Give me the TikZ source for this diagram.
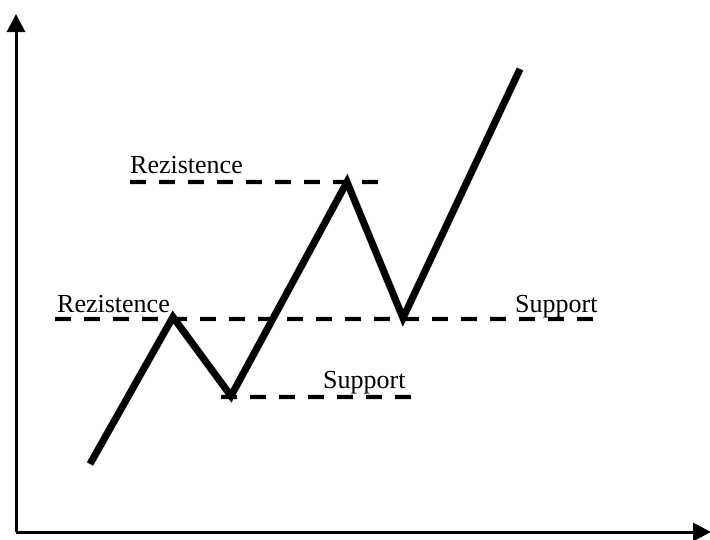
\documentclass[tikz,border=0pt]{standalone}
\usepackage{fontspec}
\setmainfont{Liberation Serif}
\usetikzlibrary{arrows.meta}
\begin{document}
\begin{tikzpicture}[x=1pt,y=-1pt,
  axis/.style={line width=3pt,-{Triangle[length=18pt,width=18pt]}},
  price/.style={line width=7pt,miter limit=10},
  level/.style={line width=4pt,dash pattern=on 16pt off 13pt},
  shade/.style={draw=black!14,line width=6pt,opacity=0.8},
  lbl/.style={anchor=base west,inner sep=0pt,font=\fontsize{26}{30}\selectfont}]
\useasboundingbox (0,0) rectangle (710,539);
% coordinates
\coordinate (o) at (16,532);
\coordinate (ytip) at (16,14);
\coordinate (xtip) at (711,532);
\coordinate (p0) at (90,464);
\coordinate (p1) at (173,317);
\coordinate (p2) at (231,396);
\coordinate (p3) at (347,182);
\coordinate (p4) at (403,318);
\coordinate (p5) at (520,69);
\coordinate (r1a) at (130,182);
\coordinate (r1b) at (378,182);
\coordinate (r2a) at (55,319);
\coordinate (r2b) at (595,319);
\coordinate (s1a) at (221,397);
\coordinate (s1b) at (412,397);
% shadows
\begin{scope}[yshift=-5pt]
\draw[shade,dash pattern=on 16pt off 13pt] (r1a) -- (r1b);
\draw[shade,dash pattern=on 16pt off 13pt] (r2a) -- (r2b);
\draw[shade,dash pattern=on 16pt off 13pt] (s1a) -- (s1b);
\draw[shade,line width=8pt] (p0) -- (p1) -- (p2) -- (p3) -- (p4) -- (p5);
\end{scope}
% axes
\draw[axis] (o) -- (ytip);
\draw[axis] (o) -- (xtip);
% levels
\draw[level] (r1a) -- (r1b);
\draw[level] (r2a) -- (r2b);
\draw[level] (s1a) -- (s1b);
% price path
\draw[price] (p0) -- (p1) -- (p2) -- (p3) -- (p4) -- (p5);
% labels
\node[lbl] (t1) at (130,173) {Rezistence};
\node[lbl] (t2) at (57,312) {Rezistence};
\node[lbl] (t3) at (515,312) {Support};
\node[lbl] (t4) at (323,388) {Support};
\end{tikzpicture}
\end{document}
